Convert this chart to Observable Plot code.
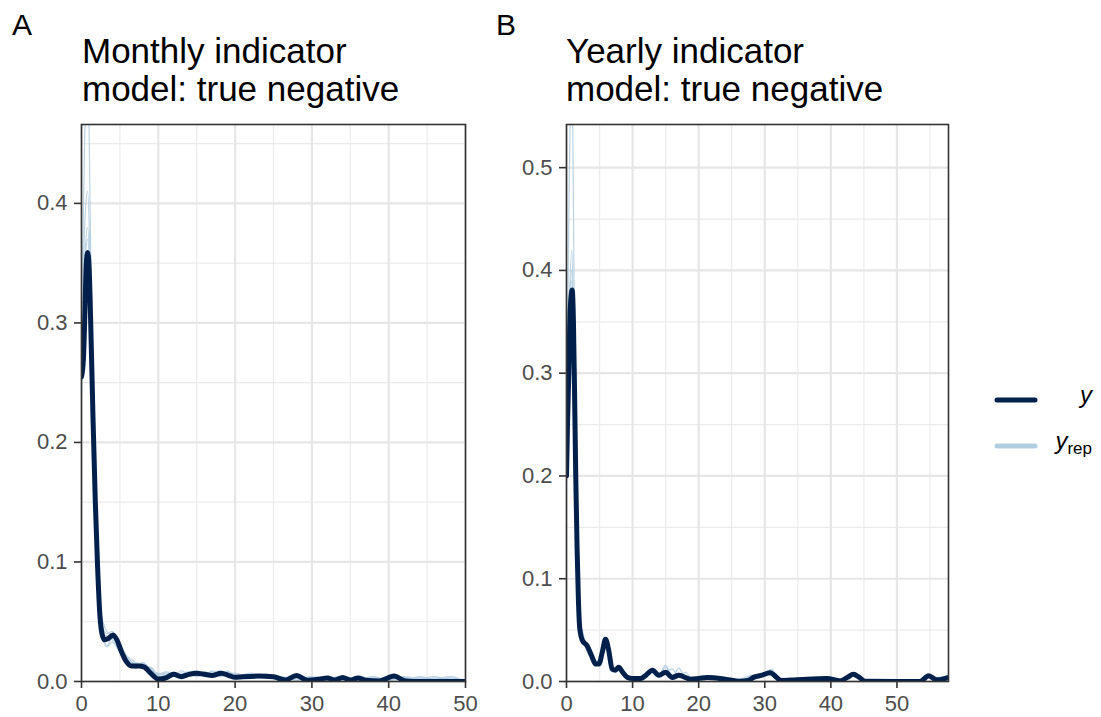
<!DOCTYPE html>
<html>
<head>
<meta charset="utf-8">
<script src="https://cdn.jsdelivr.net/npm/d3@7"></script>
<script src="https://cdn.jsdelivr.net/npm/@observablehq/plot@0.6"></script>
<style>
  body { margin: 0; background: white; }
  #root { position: relative; width: 1101px; height: 717px; font-family: "Liberation Sans", Arial, Helvetica, sans-serif; }
  .panel { position: absolute; top: 110px; }
  #overlay { position: absolute; left: 0; top: 0; pointer-events: none; }
</style>
</head>
<body>
<div id="root">
  <div id="pA" class="panel" style="left:0px"></div>
  <div id="pB" class="panel" style="left:490px"></div>
  <svg id="overlay" width="1101" height="717"></svg>
</div>
<script>
// ---------- Panel A: Monthly indicator model ----------
const titleA = ["Monthly indicator", "model: true negative"];
const xA_obs = [0,0.25,0.45,0.6,0.8,1.0,1.2,1.5,1.8,2.1,2.4,2.7,3.0,3.5,4.1,4.6,5.2,5.8,6.5,7.5,8.2,9,10,11,12,13,14,15,16,17,18.2,19.2,20,21,23,25,26.5,28,29.4,31,32,33,34,35,36,37,38.8,40.7,42.2,44,50];
const yA_obs = [0.255,0.27,0.31,0.345,0.359,0.345,0.30,0.22,0.15,0.095,0.055,0.039,0.035,0.036,0.039,0.035,0.025,0.017,0.013,0.013,0.012,0.007,0.002,0.003,0.006,0.004,0.006,0.007,0.006,0.005,0.007,0.005,0.0035,0.004,0.0045,0.004,0.0012,0.005,0.001,0.002,0.003,0.0012,0.0033,0.0012,0.003,0.001,0.0005,0.0045,0.0005,0,0];
const xA_rep = [0,0.4,0.8,1.2,1.6,2,2.4,2.8,3.3,4,5,6,7,8,9,10,11,12,13,14,15,16,17,18,19,20,22,24,26,28,30,32,34,36,38,40,42,44,46,48,50];
const yA_rep1 = [0.30,0.45,0.52,0.36,0.22,0.10,0.05,0.040,0.038,0.035,0.026,0.018,0.013,0.016,0.009,0.004,0.005,0.007,0.005,0.008,0.009,0.006,0.005,0.008,0.007,0.005,0.006,0.004,0.002,0.005,0.002,0.003,0.004,0.002,0.001,0.003,0.001,0.002,0.004,0.0005,0];
const yA_rep2 = [0.26,0.38,0.41,0.33,0.20,0.09,0.056,0.045,0.04,0.042,0.03,0.02,0.014,0.012,0.008,0.006,0.007,0.005,0.009,0.006,0.007,0.008,0.006,0.005,0.009,0.004,0.005,0.006,0.001,0.004,0.003,0.002,0.001,0.004,0.002,0.001,0.003,0.001,0.0008,0.003,0];
const yA_rep3 = [0.25,0.33,0.36,0.31,0.21,0.11,0.06,0.04,0.03,0.036,0.032,0.019,0.011,0.013,0.01,0.003,0.006,0.004,0.006,0.008,0.005,0.007,0.004,0.006,0.008,0.006,0.004,0.005,0.003,0.002,0.004,0.001,0.003,0.003,0.001,0.004,0.002,0.003,0.001,0,0];
const yA_rep4 = [0.24,0.34,0.37,0.30,0.19,0.10,0.05,0.035,0.029,0.033,0.024,0.016,0.015,0.011,0.012,0.005,0.004,0.008,0.004,0.007,0.006,0.005,0.009,0.004,0.006,0.007,0.003,0.004,0.002,0.003,0.002,0.003,0.002,0.001,0.003,0.002,0.001,0.004,0.002,0.004,0];
const yA_rep5 = [0.27,0.35,0.38,0.32,0.22,0.12,0.065,0.05,0.042,0.039,0.027,0.021,0.016,0.014,0.009,0.007,0.005,0.006,0.007,0.005,0.008,0.004,0.007,0.009,0.005,0.004,0.007,0.003,0.004,0.001,0.003,0.004,0.001,0.002,0.004,0.001,0.004,0.002,0.001,0.001,0];
const yA_rep6 = [0.25,0.34,0.36,0.30,0.20,0.10,0.055,0.042,0.034,0.037,0.029,0.017,0.012,0.015,0.011,0.006,0.008,0.006,0.004,0.006,0.004,0.006,0.008,0.007,0.004,0.005,0.004,0.006,0.003,0.005,0.001,0.002,0.003,0.002,0.002,0.002,0.003,0.001,0.003,0.002,0];
const xA_ticks = [0,10,20,30,40,50];
const xA_minor = [5,15,25,35,45];
const yA_ticks = [0,0.1,0.2,0.3,0.4];
const yA_minor = [0.05,0.15,0.25,0.35,0.45];

// ---------- Panel B: Yearly indicator model ----------
const titleB = ["Yearly indicator", "model: true negative"];
const xB_obs = [0,0.15,0.35,0.55,0.86,1.05,1.2,1.4,1.6,1.8,2.0,2.4,3.1,3.8,4.4,4.9,5.4,5.9,6.4,6.9,7.4,7.9,8.5,9.2,10,11.2,12,13,14,15,16,17,18.8,20,21.3,23.8,26.3,27.5,28.3,29.5,30.8,31.8,32.4,34,36.4,39.4,41.4,42.5,43.4,44.3,45.2,53.5,54.8,56,57,57.8];
const yB_obs = [0.20,0.25,0.30,0.36,0.381,0.35,0.29,0.20,0.13,0.08,0.052,0.040,0.035,0.025,0.017,0.017,0.028,0.041,0.03,0.012,0.011,0.0138,0.009,0.004,0.003,0.003,0.006,0.011,0.006,0.009,0.004,0.006,0.0023,0.003,0.004,0.0025,0.0003,0.001,0.004,0.006,0.0085,0.004,0.001,0.0015,0.0023,0.0028,0.0006,0.004,0.007,0.004,0.0002,0,0.0056,0.0016,0.0025,0.004];
const xB_rep = [0,0.4,0.8,1.2,1.6,2,2.4,2.8,3.3,4,5,6,7,8,9,10,11,12,13,14,15,16,17,18,19,20,22,24,26,28,30,31,32,34,36,38,40,42,43.5,45,47,50,53,55,56.5,57.8];
const yB_rep1 = [0.25,0.48,0.60,0.35,0.15,0.06,0.045,0.04,0.03,0.022,0.02,0.035,0.015,0.012,0.005,0.003,0.002,0.007,0.011,0.005,0.014,0.006,0.008,0.004,0.003,0.004,0.005,0.002,0.001,0.005,0.007,0.011,0.003,0.001,0.002,0.002,0.003,0.001,0.008,0.001,0,0,0,0.004,0.002,0.005];
const yB_rep2 = [0.22,0.36,0.42,0.28,0.12,0.055,0.05,0.038,0.028,0.02,0.018,0.038,0.012,0.015,0.004,0.002,0.004,0.005,0.009,0.008,0.010,0.012,0.005,0.009,0.003,0.003,0.004,0.003,0.002,0.004,0.009,0.008,0.002,0.002,0.003,0.002,0.002,0.002,0.006,0.001,0,0,0.001,0.005,0.003,0.004];
const yB_rep3 = [0.20,0.33,0.38,0.27,0.13,0.05,0.042,0.036,0.032,0.024,0.019,0.04,0.011,0.013,0.006,0.003,0.003,0.006,0.012,0.006,0.009,0.005,0.007,0.005,0.002,0.004,0.003,0.002,0.001,0.003,0.006,0.008,0.002,0.001,0.002,0.003,0.003,0.001,0.007,0.0005,0,0,0,0.006,0.001,0.003];
const yB_rep4 = [0.21,0.34,0.39,0.26,0.11,0.048,0.04,0.034,0.027,0.019,0.017,0.037,0.013,0.014,0.005,0.004,0.003,0.004,0.010,0.007,0.016,0.004,0.013,0.003,0.004,0.003,0.006,0.001,0.002,0.006,0.008,0.012,0.004,0.002,0.003,0.001,0.004,0.002,0.009,0.002,0,0,0,0.004,0.004,0.006];
const yB_rep5 = [0.19,0.35,0.40,0.29,0.14,0.058,0.048,0.037,0.029,0.021,0.018,0.041,0.013,0.013,0.004,0.002,0.003,0.006,0.011,0.006,0.008,0.005,0.006,0.004,0.002,0.003,0.004,0.002,0.001,0.004,0.008,0.010,0.002,0.001,0.002,0.002,0.002,0.001,0.007,0.001,0,0,0,0.005,0.002,0.004];
const xB_ticks = [0,10,20,30,40,50];
const xB_minor = [5,15,25,35,45,55];
const yB_ticks = [0,0.1,0.2,0.3,0.4,0.5];
const yB_minor = [0.05,0.15,0.25,0.35,0.45];

const darkColor = "#011f4b";
const lightColor = "#b3cde0";
const FONT = '"Liberation Sans", Arial, Helvetica, sans-serif';

function toRows(xs, ys) { return xs.map((x, i) => ({x, y: ys[i]})); }
function repRows(xs, series) {
  const out = [];
  series.forEach((ys, k) => xs.forEach((x, i) => out.push({x, y: ys[i], rep: k})));
  return out;
}

function panel(opts) {
  return Plot.plot({
    width: opts.width, height: 607,
    marginLeft: opts.marginLeft, marginRight: opts.marginRight, marginTop: 14, marginBottom: 36,
    style: {fontSize: "22px", fontFamily: FONT, background: "white", overflow: "visible"},
    x: {domain: opts.xDomain},
    y: {domain: opts.yDomain},
    marks: [
      Plot.ruleX(opts.xMinor, {stroke: "#ebebeb", strokeWidth: 1.2}),
      Plot.ruleY(opts.yMinor, {stroke: "#ebebeb", strokeWidth: 1.2}),
      Plot.ruleX(opts.xTicks, {stroke: "#e6e6e6", strokeWidth: 2.2}),
      Plot.ruleY(opts.yTicks, {stroke: "#e6e6e6", strokeWidth: 2.2}),
      Plot.line(opts.reps, {x: "x", y: "y", z: "rep", stroke: lightColor, strokeWidth: 1.2, strokeOpacity: 0.9, curve: "monotone-x", clip: true}),
      Plot.line(opts.obs, {x: "x", y: "y", stroke: darkColor, strokeWidth: 5, curve: "monotone-x", clip: true, strokeLinejoin: "round"}),
      Plot.frame({stroke: "#333333", strokeWidth: 1.6}),
      Plot.axisX(opts.xTicks, {tickSize: 7, tickPadding: 7, stroke: "#333333", strokeWidth: 1.6, fill: "#4d4d4d", fontSize: 22, label: null}),
      Plot.axisY(opts.yTicks, {tickSize: 7, tickPadding: 7, stroke: "#333333", strokeWidth: 1.6, fill: "#4d4d4d", fontSize: 22, tickFormat: d3.format(".1f"), label: null})
    ]
  });
}

document.getElementById("pA").appendChild(panel({
  width: 480, marginLeft: 81, marginRight: 15,
  xDomain: [0, 50], yDomain: [0, 0.466],
  xTicks: xA_ticks, xMinor: xA_minor, yTicks: yA_ticks, yMinor: yA_minor,
  obs: toRows(xA_obs, yA_obs),
  reps: repRows(xA_rep, [yA_rep1, yA_rep2, yA_rep3, yA_rep4, yA_rep5, yA_rep6])
}));

document.getElementById("pB").appendChild(panel({
  width: 470, marginLeft: 76, marginRight: 12,
  xDomain: [0, 57.8], yDomain: [0, 0.542],
  xTicks: xB_ticks, xMinor: xB_minor, yTicks: yB_ticks, yMinor: yB_minor,
  obs: toRows(xB_obs, yB_obs),
  reps: repRows(xB_rep, [yB_rep1, yB_rep2, yB_rep3, yB_rep4, yB_rep5])
}));

// ---------- Overlay text: panel tags, titles, legend ----------
const svg = d3.select("#overlay").style("font-family", FONT);
svg.append("text").attr("x", 12).attr("y", 35).attr("font-size", 30).text("A");
svg.append("text").attr("x", 496).attr("y", 35).attr("font-size", 30).text("B");
titleA.forEach((t, i) => svg.append("text").attr("x", 82).attr("y", 63 + i * 38).attr("font-size", 35).text(t));
titleB.forEach((t, i) => svg.append("text").attr("x", 566).attr("y", 63 + i * 38).attr("font-size", 35).text(t));

svg.append("line").attr("x1", 997).attr("x2", 1035).attr("y1", 400).attr("y2", 400)
  .attr("stroke", darkColor).attr("stroke-width", 5).attr("stroke-linecap", "round");
svg.append("line").attr("x1", 997).attr("x2", 1035).attr("y1", 446).attr("y2", 446)
  .attr("stroke", lightColor).attr("stroke-width", 5).attr("stroke-linecap", "round");
svg.append("text").attr("x", 1092).attr("y", 403).attr("text-anchor", "end")
  .attr("font-size", 24).attr("font-style", "italic").text("y");
const t2 = svg.append("text").attr("x", 1092).attr("y", 449).attr("text-anchor", "end").attr("font-size", 24);
t2.append("tspan").attr("font-style", "italic").text("y");
t2.append("tspan").attr("font-size", 17).attr("dy", 5).text("rep");
</script>
</body>
</html>
